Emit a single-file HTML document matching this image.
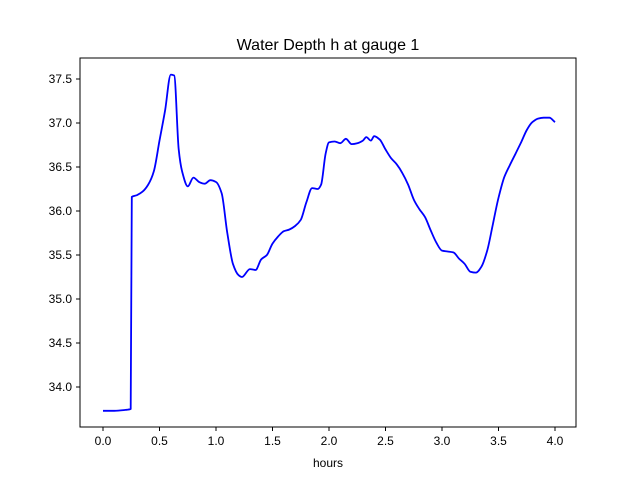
<!DOCTYPE html>
<html><head><meta charset="utf-8"><style>
body{margin:0;background:#fff}
text{font-family:"Liberation Sans","DejaVu Sans",sans-serif;fill:#000}
</style></head><body>
<svg id="chart" width="640" height="480" xmlns="http://www.w3.org/2000/svg">
<rect width="640" height="480" fill="#fff"/>
<text x="328" y="50" font-size="16" text-anchor="middle">Water Depth h at gauge 1</text>
<g id="xt"></g>
<g id="yt"></g>
<path id="line" fill="none" stroke="#0000ff" stroke-width="1.8" stroke-linejoin="round"/>
<rect x="80" y="58" width="496" height="369" fill="none" stroke="#000" stroke-width="1"/>
<text x="328" y="467" font-size="12" text-anchor="middle">hours</text>
</svg>
<script>
const hours=[0,0.1,0.2,0.245,0.255,0.3,0.35,0.4,0.45,0.5,0.55,0.6,0.63,0.67,0.7,0.75,0.8,0.85,0.9,0.95,1.0,1.05,1.1,1.15,1.2,1.23,1.3,1.35,1.4,1.45,1.5,1.55,1.6,1.65,1.7,1.75,1.8,1.85,1.9,1.93,1.97,2.0,2.05,2.1,2.15,2.2,2.25,2.3,2.33,2.37,2.4,2.45,2.5,2.55,2.6,2.65,2.7,2.75,2.8,2.85,2.9,2.95,3.0,3.05,3.1,3.15,3.2,3.25,3.3,3.35,3.4,3.45,3.5,3.55,3.6,3.65,3.7,3.75,3.8,3.85,3.9,3.95,4.0];
const depth=[33.73,33.73,33.74,33.75,36.16,36.18,36.22,36.3,36.45,36.8,37.15,37.55,37.54,36.7,36.45,36.28,36.38,36.33,36.31,36.35,36.33,36.2,35.75,35.4,35.27,35.25,35.34,35.33,35.45,35.5,35.63,35.71,35.77,35.79,35.83,35.9,36.1,36.26,36.25,36.3,36.65,36.78,36.79,36.77,36.82,36.76,36.77,36.8,36.84,36.8,36.85,36.81,36.7,36.6,36.53,36.43,36.3,36.13,36.02,35.93,35.78,35.64,35.55,35.54,35.53,35.46,35.4,35.31,35.3,35.37,35.55,35.85,36.15,36.38,36.52,36.65,36.78,36.92,37.01,37.05,37.06,37.06,37.01];
const xTicks=[0,0.5,1,1.5,2,2.5,3,3.5,4];
const xTickLabels=["0.0","0.5","1.0","1.5","2.0","2.5","3.0","3.5","4.0"];
const yTicks=[34,34.5,35,35.5,36,36.5,37,37.5];
const yTickLabels=["34.0","34.5","35.0","35.5","36.0","36.5","37.0","37.5"];
const X=v=>103+v*113, Y=v=>387-(v-34)*88;
const NS="http://www.w3.org/2000/svg";
const xt=document.getElementById('xt'), yt=document.getElementById('yt');
xTicks.forEach((t,i)=>{
 const l=document.createElementNS(NS,'line');
 
 
 l.setAttribute('x1',X(t));l.setAttribute('x2',X(t));l.setAttribute('y1',427);l.setAttribute('y2',431);l.setAttribute('stroke','#000');
 xt.appendChild(l);
 const tx=document.createElementNS(NS,'text');
 
 
 tx.setAttribute('x',X(t));tx.setAttribute('y',445);tx.setAttribute('font-size','12');tx.setAttribute('text-anchor','middle');
 tx.textContent=xTickLabels[i];xt.appendChild(tx);
});
yTicks.forEach((t,i)=>{
 const l=document.createElementNS(NS,'line');
 
 
 l.setAttribute('x1',76);l.setAttribute('x2',80);l.setAttribute('y1',Y(t));l.setAttribute('y2',Y(t));l.setAttribute('stroke','#000');
 yt.appendChild(l);
 const tx=document.createElementNS(NS,'text');
 
 
 tx.setAttribute('x',72);tx.setAttribute('y',Y(t)+4);tx.setAttribute('font-size','12');tx.setAttribute('text-anchor','end');
 tx.textContent=yTickLabels[i];yt.appendChild(tx);
});
// monotone cubic interpolation (no overshoot)
const px=hours.map(X), py=depth.map(Y), n=px.length;
const d=[],m=[];
for(let i=0;i<n-1;i++) d.push((py[i+1]-py[i])/(px[i+1]-px[i]));
for(let i=0;i<n;i++){
 if(i===0) m.push(d[0]); else if(i===n-1) m.push(d[n-2]);
 else m.push(d[i-1]*d[i]<=0?0:2/(1/d[i-1]+1/d[i]));
}
let path='M'+px[0].toFixed(1)+','+py[0].toFixed(1);
for(let i=0;i<n-1;i++){
 const h=(px[i+1]-px[i])/3;
 path+='C'+(px[i]+h).toFixed(1)+','+(py[i]+m[i]*h).toFixed(1)+' '+(px[i+1]-h).toFixed(1)+','+(py[i+1]-m[i+1]*h).toFixed(1)+' '+px[i+1].toFixed(1)+','+py[i+1].toFixed(1);
}
document.getElementById('line').setAttribute('d',path);
</script>
</body></html>
